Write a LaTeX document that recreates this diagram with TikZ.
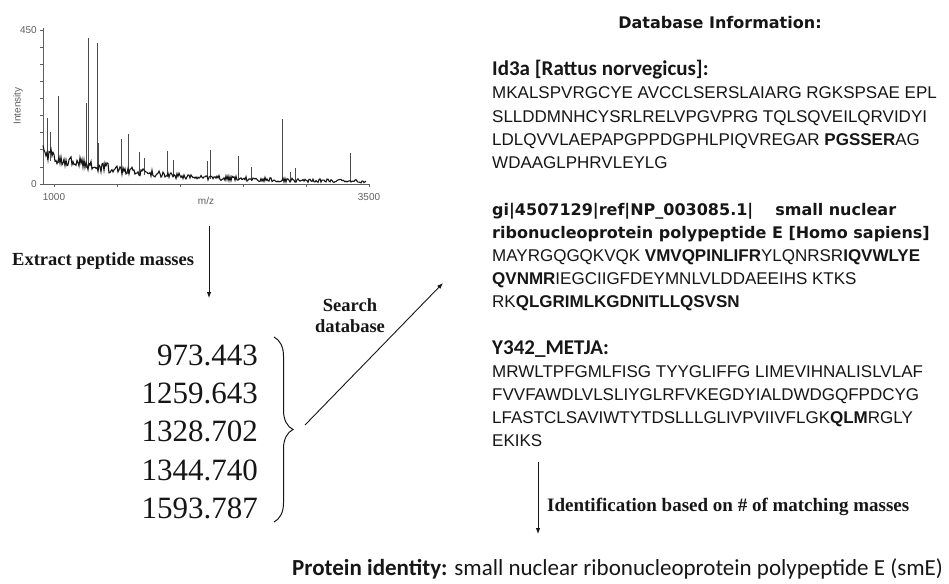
\documentclass[tikz,border=0pt]{standalone}
\usepackage{fontspec}
\setmainfont{Liberation Serif}
\setsansfont{Liberation Sans}
\newfontfamily\headfont{DejaVu Sans}
\newfontfamily\calfont{Carlito}
\usetikzlibrary{arrows.meta, decorations.pathreplacing}
\definecolor{ink}{RGB}{22,22,22}
\definecolor{axisgray}{RGB}{95,95,95}
\definecolor{peakgray}{RGB}{75,75,75}

\begin{document}
\begin{tikzpicture}[x=1pt, y=-1pt,
    seq/.style={anchor=base west, inner sep=0pt, text=ink, font=\sffamily\fontsize{17}{20}\selectfont},
    seqhead/.style={anchor=base west, inner sep=0pt, text=ink, font=\calfont\bfseries\fontsize{21}{24}\selectfont},
    gihead/.style={anchor=base west, inner sep=0pt, text=ink, font=\headfont\bfseries\fontsize{16}{20}\selectfont},
    steplabel/.style={inner sep=0pt, text=ink, font=\rmfamily\bfseries\fontsize{18.5}{22}\selectfont},
    mass/.style={anchor=base east, inner sep=0pt, text=ink, font=\rmfamily\fontsize{31}{36}\selectfont},
    axlabel/.style={inner sep=0pt, text=axisgray, font=\sffamily\fontsize{10}{12}\selectfont},
    peak/.style={draw=peakgray, line width=0.8pt},
    flow/.style={draw=ink, line width=0.9pt, -{Latex[length=6pt,width=4.5pt]}}]
  \useasboundingbox (0,0) rectangle (949,583);

  % spectre : axes et graduations
  \draw[axisgray, line width=0.8pt] (43,28) -- (43,184) -- (369,184);
  \foreach \t in {0,...,9}
    \draw[axisgray, line width=0.6pt] (40,{30+17.1*\t}) -- (43,{30+17.1*\t});
  \foreach \t in {54,117,180,243,306,369}
    \draw[axisgray, line width=0.6pt] (\t,184) -- (\t,187);
  \node[axlabel, anchor=east] (ymax) at (37,30) {450};
  \node[axlabel, anchor=east] (yzero) at (37,184) {0};
  \node[axlabel] (xmin) at (54,197) {1000};
  \node[axlabel] (xmax) at (369,197) {3500};
  \node[axlabel] (xname) at (206,201) {m/z};
  \node[axlabel, rotate=90] (yname) at (18,106) {Intensity};

  % bruit de fond et pics
  \pgfmathsetseed{11}
  \foreach \px/\py in {47/118, 50/132, 58/96, 86/103, 88/38, 97/43, 98/143,
      121/139, 128/134, 139/152, 144/158, 167/151, 173/160, 207/161, 210/150,
      238/156, 251/167, 282/119, 290/172, 295/168, 350/153}
    \draw[peak] (\px,{183-24*exp(-(\px-43)/90)}) -- (\px,\py);
  \draw[ink, line width=1.1pt] plot[domain=43:366, samples=324]
    (\x, {183.5-22*exp(-(\x-43)/90)-(3+14*exp(-(\x-43)/90))*rnd});

  % etape 1 : masses
  \node[steplabel, anchor=base west] (extract) at (12,265) {Extract peptide masses};
  \coordinate (specfoot) at (209,226);
  \coordinate (masstop) at (209,298);
  \draw[flow] (specfoot) -- (masstop);

  \foreach \m [count=\i] in {973.443, 1259.643, 1328.702, 1344.740, 1593.787}
    \node[mass] (m\i) at (258,{327+38.3*\i}) {\m};
  \draw[ink, line width=1pt, decorate, decoration={brace, amplitude=19pt}]
    (274,337) -- (274,522);

  % etape 2 : recherche
  \node[steplabel, align=center] (search) at (350,316)
    {Search\\[-1pt]database};
  \coordinate (bracetip) at (305,425);
  \coordinate (dbentry) at (443,283);
  \draw[flow] (bracetip) -- (dbentry);

  % base de donnees
  \node[gihead, anchor=base] (dbtitle) at (720,29) {Database Information:};

  \node[seqhead] (idhead) at (492,76) {Id3a [Rattus norvegicus]:};
  \node[seq] (id1) at (492,99) {MKALSPVRGCYE AVCCLSERSLAIARG RGKSPSAE EPL};
  \node[seq] (id2) at (492,122) {SLLDDMNHCYSRLRELVPGVPRG TQLSQVEILQRVIDYI};
  \node[seq] (id3) at (492,145) {LDLQVVLAEPAPGPPDGPHLPIQVREGAR \textbf{PGSSER}AG};
  \node[seq] (id4) at (492,168) {WDAAGLPHRVLEYLG};

  \node[gihead] (gihead1) at (492,215) {gi|4507129|ref|NP\_003085.1|\hspace{22pt}small nuclear};
  \node[gihead] (gihead2) at (492,238) {ribonucleoprotein polypeptide E [Homo sapiens]};
  \node[seq] (gi1) at (492,261) {MAYRGQGQKVQK \textbf{VMVQPINLIFR}YLQNRSR\textbf{IQVWLYE}};
  \node[seq] (gi2) at (492,284) {\textbf{QVNMR}IEGCIIGFDEYMNLVLDDAEEIHS KTKS};
  \node[seq] (gi3) at (492,307) {RK\textbf{QLGRIMLKGDNITLLQSVSN}};

  \node[seqhead] (yhead) at (492,354) {Y342\_METJA:};
  \node[seq] (y1) at (492,377) {MRWLTPFGMLFISG TYYGLIFFG LIMEVIHNALISLVLAF};
  \node[seq] (y2) at (492,400) {FVVFAWDLVLSLIYGLRFVKEGDYIALDWDGQFPDCYG};
  \node[seq] (y3) at (492,423) {LFASTCLSAVIWTYTDSLLLGLIVPVIIVFLGK\textbf{QLM}RGLY};
  \node[seq] (y4) at (492,446) {EKIKS};

  % etape 3 : identification
  \coordinate (hitsfoot) at (538,462);
  \coordinate (resulttop) at (538,534);
  \draw[flow] (hitsfoot) -- (resulttop);
  \node[steplabel, anchor=base west, font=\rmfamily\bfseries\fontsize{19}{22}\selectfont]
    (ident) at (547,511) {Identification based on \# of matching masses};

  \node[anchor=base west, inner sep=0pt, text=ink, font=\calfont\fontsize{23}{26}\selectfont]
    (result) at (292,575)
    {\textbf{Protein identity:} small nuclear ribonucleoprotein polypeptide E (smE)};
\end{tikzpicture}
\end{document}
